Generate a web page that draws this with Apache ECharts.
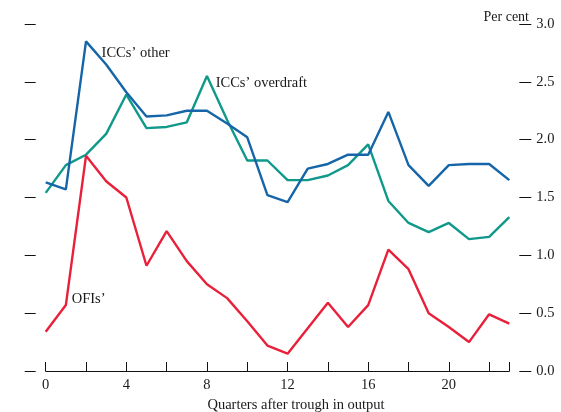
<!DOCTYPE html>
<html>
<head>
<meta charset="utf-8">
<script src="https://cdn.jsdelivr.net/npm/echarts@6/dist/echarts.min.js"></script>
<style>html,body{margin:0;padding:0;background:#fff}#c{width:561px;height:412px}</style>
</head>
<body>
<div id="c"></div>
<script>
// Quarters after trough in output
var quarters = [0,1,2,3,4,5,6,7,8,9,10,11,12,13,14,15,16,17,18,19,20,21,22,23];
// ICCs' other
var iccsOther = [1.63,1.57,2.85,2.65,2.41,2.20,2.21,2.25,2.25,2.14,2.02,1.52,1.46,1.75,1.79,1.87,1.87,2.24,1.78,1.60,1.78,1.79,1.79,1.65];
// ICCs' overdraft
var iccsOverdraft = [1.54,1.78,1.87,2.05,2.39,2.10,2.11,2.15,2.55,2.17,1.82,1.82,1.65,1.65,1.69,1.78,1.96,1.47,1.28,1.20,1.28,1.14,1.16,1.33];
// OFIs'
var ofis = [0.34,0.57,1.86,1.64,1.50,0.91,1.21,0.95,0.75,0.63,0.43,0.22,0.15,0.37,0.59,0.38,0.57,1.05,0.88,0.50,0.38,0.25,0.49,0.41];
var xLabelTicks = [0,4,8,12,16,20];

var FONT = '"Liberation Serif", "DejaVu Serif", serif';
var TXT = '#1a1a1a';

function build(vals, labelIdx, text, offset) {
  return vals.map(function (v, i) {
    var d = { value: [quarters[i], v] };
    if (i === labelIdx) {
      d.label = { show: true, position: 'right', distance: 0, offset: offset,
        formatter: text, fontFamily: FONT, fontSize: 14.5, color: TXT };
    }
    return d;
  });
}

function lineSeries(name, vals, color, labelIdx, offset) {
  return {
    type: 'line', name: name, yAxisIndex: 1,
    symbol: 'circle', symbolSize: 0, showSymbol: true, showAllSymbol: true,
    lineStyle: { color: color, width: 2.4 }, itemStyle: { color: color },
    label: { show: false },
    data: build(vals, labelIdx, name, offset)
  };
}

var chart = echarts.init(document.getElementById('c'));
chart.setOption({
  animation: false,
  backgroundColor: '#fff',
  title: {
    text: 'Per cent', right: 27, top: 5,
    textStyle: { fontFamily: FONT, fontSize: 14, fontWeight: 'normal', color: TXT }
  },
  grid: { left: 45.7, right: 51.7, top: 24, bottom: 41, containLabel: false, outerBoundsMode: 'none' },
  xAxis: {
    type: 'value', min: 0, max: 23, interval: 2,
    name: 'Quarters after trough in output', nameLocation: 'middle', nameGap: 25,
    nameTextStyle: { fontFamily: FONT, fontSize: 14.5, color: TXT, padding: [0, 0, 0, 37] },
    axisLine: { show: true, onZero: false, lineStyle: { color: '#111', width: 1 } },
    axisTick: { show: true, inside: true, length: 9, lineStyle: { color: '#111', width: 1 } },
    axisLabel: { margin: 7, fontFamily: FONT, fontSize: 14.5, color: TXT,
      formatter: function (v) { return xLabelTicks.indexOf(v) >= 0 ? String(v) : ''; } },
    splitLine: { show: false }
  },
  yAxis: [
    {
      type: 'value', position: 'left', offset: 10, min: 0, max: 3, interval: 0.5,
      axisLine: { show: false, onZero: false },
      axisTick: { show: true, inside: false, length: 11, lineStyle: { color: '#111', width: 1 } },
      axisLabel: { show: false },
      splitLine: { show: false }
    },
    {
      type: 'value', position: 'right', offset: 10, min: 0, max: 3, interval: 0.5,
      axisLine: { show: false, onZero: false },
      axisTick: { show: true, inside: false, length: 12, lineStyle: { color: '#111', width: 1 } },
      axisLabel: { margin: 17, fontFamily: FONT, fontSize: 14.5, color: TXT,
        formatter: function (v) { return v.toFixed(1); } },
      splitLine: { show: false }
    }
  ],
  series: [
    lineSeries('ICCs’ overdraft', iccsOverdraft, '#10998a', 8, [8.7, 7.5]),
    lineSeries('ICCs’ other', iccsOther, '#1565a8', 2, [15.6, 11.5]),
    lineSeries('OFIs’', ofis, '#e8203a', 1, [5.8, -5.5])
  ]
});
</script>
</body>
</html>
